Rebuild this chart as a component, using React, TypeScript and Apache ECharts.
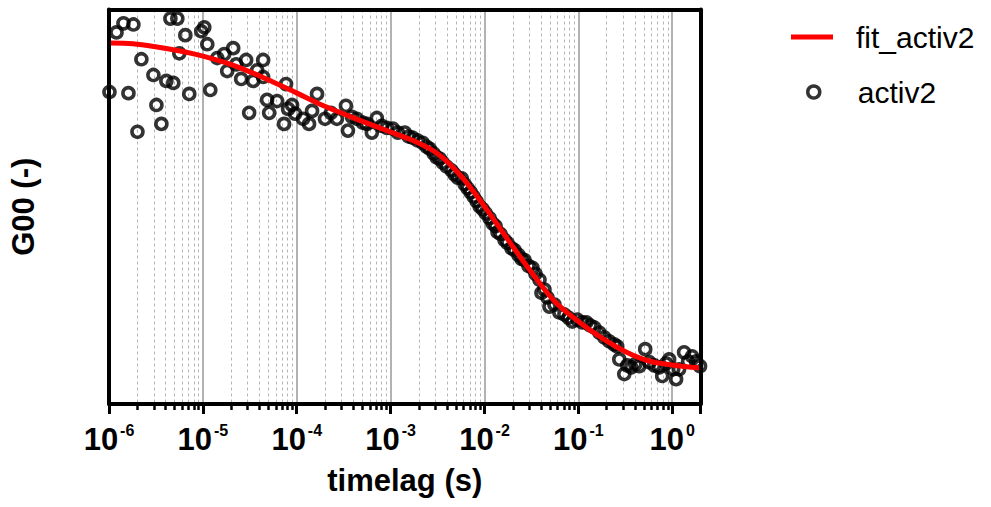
import React, { useEffect, useRef } from 'react';
import * as echarts from 'echarts';

const FONT = '"Liberation Sans", Arial, Helvetica, sans-serif';

const seriesNames = ['fit_activ2', 'activ2'];
const xTitle = 'timelag (s)';
const yTitle = 'G00 (-)';
const xMin = 1e-6;
const xMax = 2;
const tickExponents = [-6, -5, -4, -3, -2, -1, 0];

// measured points: log10 of the time lag (s)
const dataLagExp = [
  -5.995, -5.92, -5.846, -5.74, -5.793, -5.697, -5.655, -5.527, -5.495, -5.442,
  -5.389, -5.315, -5.346, -5.272, -5.251, -5.187, -5.145, -5.017, -4.985, -4.953,
  -4.921, -4.847, -4.773, -4.741, -4.677, -4.645, -4.592, -4.539, -4.507, -4.464,
  -4.422, -4.358, -4.358, -4.316, -4.294, -4.209, -4.135, -4.114, -4.092, -4.05,
  -4.018, -3.933, -3.869, -3.837, -3.784, -3.699, -3.636, -3.572, -3.476, -3.455,
  -3.412, -3.359, -3.295, -3.253, -3.2, -3.147, -3.094, -3.04, -2.977, -2.923,
  -2.849, -2.807, -2.764, -2.711, -2.658, -2.615, -2.583, -2.541, -2.509, -2.477,
  -2.445, -2.403, -2.35, -2.318, -2.286, -2.243, -2.211, -2.18, -2.148, -2.116,
  -2.084, -2.052, -2.02, -1.988, -1.946, -1.914, -1.882, -1.861, -1.829, -1.786,
  -1.755, -1.712, -1.68, -1.638, -1.606, -1.574, -1.531, -1.489, -1.457, -1.414,
  -1.393, -1.361, -1.329, -1.308, -1.255, -1.202, -1.149, -1.106, -1.064, -1.011,
  -0.958, -0.915, -0.873, -0.83, -0.777, -0.724, -0.671, -0.618, -0.586, -0.564,
  -0.511, -0.479, -0.437, -0.394, -0.352, -0.288, -0.245, -0.192, -0.139, -0.107,
  -0.065, -0.033, 0.01, 0.041, 0.073, 0.126, 0.169, 0.211, 0.254, 0.296,
];

// measured G00 values (arbitrary units)
const dataG = [
  0.791, 0.942, 0.965, 0.962, 0.788, 0.69, 0.874, 0.834, 0.758, 0.71,
  0.819, 0.814, 0.977, 0.977, 0.889, 0.935, 0.786, 0.945, 0.955, 0.912,
  0.796, 0.877, 0.887, 0.844, 0.902, 0.861, 0.824, 0.872, 0.738, 0.819,
  0.846, 0.872, 0.829, 0.771, 0.738, 0.768, 0.71, 0.811, 0.748, 0.758,
  0.736, 0.723, 0.71, 0.743, 0.786, 0.723, 0.738, 0.723, 0.756, 0.693,
  0.728, 0.723, 0.713, 0.71, 0.688, 0.725, 0.705, 0.7, 0.698, 0.688,
  0.688, 0.678, 0.675, 0.668, 0.662, 0.652, 0.647, 0.635, 0.625, 0.622,
  0.612, 0.602, 0.592, 0.582, 0.574, 0.572, 0.557, 0.547, 0.537, 0.526,
  0.514, 0.501, 0.494, 0.484, 0.471, 0.458, 0.451, 0.436, 0.431, 0.416,
  0.408, 0.395, 0.39, 0.378, 0.368, 0.365, 0.35, 0.345, 0.33, 0.315,
  0.282, 0.29, 0.27, 0.247, 0.252, 0.232, 0.227, 0.219, 0.209, 0.214,
  0.207, 0.207, 0.199, 0.194, 0.181, 0.169, 0.159, 0.151, 0.146, 0.113,
  0.076, 0.098, 0.093, 0.101, 0.096, 0.139, 0.106, 0.098, 0.093, 0.071,
  0.103, 0.113, 0.088, 0.063, 0.088, 0.131, 0.108, 0.121, 0.108, 0.096,
];

// fit curve: log10 of the time lag (s) and G00
const fitLagExp = [
  -5.989, -5.744, -5.489, -5.244, -4.999, -4.743, -4.498, -4.253, -3.997, -3.752,
  -3.497, -3.252, -2.996, -2.751, -2.495, -2.25, -1.994, -1.749, -1.494, -1.249,
  -0.993, -0.748, -0.492, -0.247, 0.0, 0.298,
];
const fitG = [
  0.915, 0.913, 0.905, 0.895, 0.882, 0.864, 0.842, 0.816, 0.788, 0.76,
  0.735, 0.712, 0.689, 0.667, 0.634, 0.578, 0.499, 0.416, 0.332, 0.259,
  0.208, 0.167, 0.132, 0.109, 0.099, 0.091,
];

function buildOption() {
  const scatterData = dataLagExp.map((e, i) => [Math.pow(10, e), dataG[i]]);
  const fitData = fitLagExp.map((e, i) => [Math.pow(10, e), fitG[i]]);
  const labelFormatter = (v: number) => {
    const e = Math.log10(v);
    const r = Math.round(e);
    if (Math.abs(e - r) > 1e-6 || tickExponents.indexOf(r) < 0) return '';
    return `{b|10}{s|${r}}`;
  };
  const frameAxis = {
    type: 'value',
    min: 0,
    max: 1,
    z: 10,
    axisLine: { show: true, onZero: false, lineStyle: { color: '#000', width: 4 } },
    axisTick: { show: false },
    axisLabel: { show: false },
    splitLine: { show: false },
  };
  return {
    animation: false,
    backgroundColor: '#ffffff',
    grid: {
      left: 109,
      right: 290.5,
      top: 9.5,
      bottom: 103,
      show: false,
    },
    legend: [
      {
        data: [{ name: seriesNames[0], icon: 'rect' }],
        left: 791,
        top: 22,
        padding: 0,
        itemWidth: 42,
        itemHeight: 5,
        selectedMode: false,
        textStyle: { fontSize: 30, color: '#000', fontFamily: FONT, padding: [0, 0, 0, 18] },
      },
      {
        data: [{ name: seriesNames[1], icon: 'circle' }],
        left: 806,
        top: 77,
        padding: 0,
        itemWidth: 12,
        itemHeight: 12,
        selectedMode: false,
        itemStyle: { color: 'transparent', borderColor: '#000', borderWidth: 3.5 },
        textStyle: { fontSize: 30, color: '#000', fontFamily: FONT, padding: [0, 0, 0, 33] },
      },
    ],
    xAxis: [
      {
        type: 'log',
        logBase: 10,
        min: xMin,
        max: xMax,
        name: xTitle,
        nameLocation: 'middle',
        nameGap: 61,
        nameTextStyle: { fontSize: 31, fontWeight: 'bold', color: '#000', fontFamily: FONT },
        axisLine: { show: true, onZero: false, lineStyle: { color: '#000', width: 4 } },
        axisTick: { show: true, length: 10, lineStyle: { color: '#000', width: 3 } },
        minorTick: { show: true, splitNumber: 9, length: 6, lineStyle: { color: '#000', width: 2.5 } },
        splitLine: { show: true, lineStyle: { color: '#999999', width: 1.5 } },
        minorSplitLine: { show: true, lineStyle: { color: '#b4b4b4', width: 1, type: [3, 3] } },
        axisLabel: {
          margin: 18,
          formatter: labelFormatter,
          rich: {
            b: { fontSize: 31, fontWeight: 'bold', fontFamily: FONT, color: '#000', lineHeight: 34 },
            s: {
              fontSize: 16,
              fontWeight: 'bold',
              fontFamily: FONT,
              color: '#000',
              verticalAlign: 'top',
              lineHeight: 16,
              padding: [0, 0, 0, 2],
            },
          },
        },
      },
      { ...frameAxis, position: 'top' },
    ],
    yAxis: [
      {
        type: 'value',
        min: 0,
        max: 1,
        z: 10,
        name: yTitle,
        nameLocation: 'middle',
        nameGap: 70,
        nameTextStyle: { fontSize: 31, fontWeight: 'bold', color: '#000', fontFamily: FONT },
        axisLine: { show: true, onZero: false, lineStyle: { color: '#000', width: 4 } },
        axisTick: { show: false },
        axisLabel: { show: false },
        splitLine: { show: false },
      },
      { ...frameAxis, position: 'right' },
    ],
    series: [
      {
        name: seriesNames[1],
        type: 'scatter',
        data: scatterData,
        symbol: 'circle',
        symbolSize: 11,
        itemStyle: { color: 'rgba(255,255,255,0)', borderColor: '#000', borderWidth: 3.6 },
        z: 2,
      },
      {
        name: seriesNames[0],
        type: 'line',
        data: fitData,
        smooth: 0.35,
        symbol: 'none',
        showSymbol: false,
        lineStyle: { color: '#ff0000', width: 5 },
        itemStyle: { color: '#ff0000' },
        z: 3,
      },
    ],
  };
}

export default function App() {
  const ref = useRef<HTMLDivElement>(null);
  useEffect(() => {
    if (!ref.current) return;
    const chart = echarts.init(ref.current, null, { renderer: 'svg' });
    chart.setOption(buildOption() as any);
    return () => chart.dispose();
  }, []);
  return (
    <div
      ref={ref}
      style={{ position: 'absolute', left: 0, top: 0, width: 991, height: 507, background: '#fff' }}
    />
  );
}
